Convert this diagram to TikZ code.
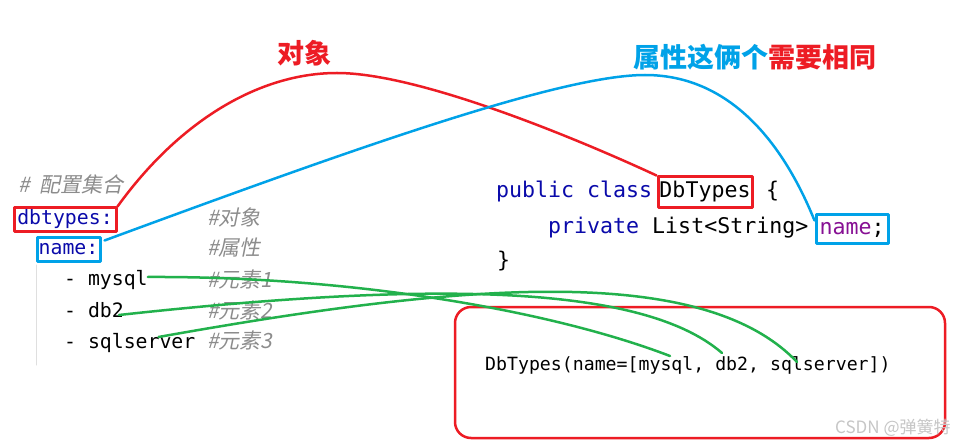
\documentclass[tikz,border=0pt]{standalone}
\usepackage{fontspec}
\setmonofont{DejaVu Sans Mono}
\newfontfamily\cjk{Noto Sans CJK SC}
\newfontfamily\cjkslant{Noto Sans CJK SC}[FakeSlant=0.2]
\usepackage{xcolor}
\definecolor{markred}{HTML}{ED1C24}
\definecolor{markblue}{HTML}{00A2E8}
\definecolor{markgreen}{HTML}{22B14C}
\definecolor{keyblue}{RGB}{10,10,170}
\definecolor{fieldpurple}{RGB}{135,16,148}
\definecolor{commentgray}{RGB}{140,140,140}

\begin{document}
\begin{tikzpicture}[
  x=1pt, y=-1pt,
  line cap=round,
  line join=round,
  every node/.style={inner sep=0pt},
  yml/.style={anchor=west, font=\ttfamily\fontsize{19.8}{22}\selectfont, text height=14pt, text depth=4pt},
  ymlkey/.style={font=\ttfamily\fontsize{19.8}{22}\selectfont, text=keyblue, line width=3pt, text height=14pt, text depth=4pt},
  comment/.style={anchor=west, font=\cjkslant\fontsize{21}{24}\selectfont, text=commentgray, text height=15pt, text depth=4pt},
  java/.style={anchor=west, font=\ttfamily\fontsize{21.6}{24}\selectfont, text height=15pt, text depth=5pt},
  javabox/.style={font=\ttfamily\fontsize{21.6}{24}\selectfont, line width=3pt, text height=15pt, text depth=5pt},
  title/.style={anchor=west, font=\cjk\bfseries\fontsize{27}{30}\selectfont},
  curve/.style={line width=2.5pt}
]
  \fill[white] (0,0) rectangle (966,446);
  \useasboundingbox (0,0) rectangle (966,446);

  % Titles
  \node[title, text=markred] (objtitle) at (277,53) {对象};
  \node[title] (attrtitle) at (633,57) {\textcolor{markblue}{属性这俩个}\textcolor{markred}{需要相同}};

  % YAML configuration
  \node[comment] (cfg) at (18,187) {\#\hspace{10pt}配置集合};
  \node[ymlkey, draw=markred, minimum width=102pt, minimum height=24pt] (dbtypes) at (65,220) {dbtypes:};
  \node[comment] (cmtobj) at (207,220) {\#对象};
  \node[ymlkey, draw=markblue, minimum width=63pt, minimum height=24pt] (ymlname) at (68.5,250) {name:};
  \node[comment] (cmtattr) at (207,250) {\#属性};
  \node[yml] (mysql) at (64,281) {- mysql};
  \node[comment] (cmtone) at (207,282) {\#元素1};
  \node[yml] (db) at (64,312) {- db2};
  \node[comment] (cmttwo) at (207,313) {\#元素2};
  \node[yml] (sqlserver) at (64,343) {- sqlserver};
  \node[comment] (cmtthree) at (207,343) {\#元素3};
  \draw[gray!25, line width=1pt] (36,265) -- (36,365);

  % Java class
  \node[java, text=keyblue] (pubclass) at (496,193) {public class};
  \node[javabox, draw=markred, minimum width=94pt, minimum height=31pt] (dbclass) at (705,192.5) {DbTypes};
  \node[java] (lbrace) at (766,193) {\{};
  \node[java] (field) at (548,229) {\textcolor{keyblue}{private} List<String>};
  \node[javabox, draw=markblue, minimum width=72pt, minimum height=29pt] (javaname) at (852,229.5) {\textcolor{fieldpurple}{name};};
  \node[java] (rbrace) at (497,263) {\}};

  % Printed result
  \node[draw=markred, line width=2.5pt, rounded corners=16pt, minimum width=490pt, minimum height=131pt] (result) at (700,372.5) {};
  \node[anchor=west, font=\ttfamily\fontsize{18.2}{20}\selectfont] (resulttxt) at (485,365) {DbTypes(name=[mysql, db2, sqlserver])};
  \node[anchor=west, font=\cjk\fontsize{17}{17}\selectfont, text=gray!45] (mark) at (835,428) {CSDN @弹簧特};

  % Links
  \draw[markred, curve] (dbtypes.north east) .. controls (180,120) and (260,73) .. (337,73)
    .. controls (420,73) and (580,140) .. (dbclass.north west);
  \draw[markblue, curve] ([xshift=3pt,yshift=-4pt]ymlname.north east) .. controls (350,150) and (560,75) .. (645,75)
    .. controls (740,75) and (790,160) .. ([yshift=-7pt]javaname.north west);

  \coordinate (outmysql) at (670,356);
  \coordinate (outdb) at (722,353);
  \coordinate (outsql) at (797,362);
  \draw[markgreen, curve] ([yshift=4pt]mysql.east) .. controls (350,276) and (550,310) .. (outmysql);
  \draw[markgreen, curve] ([xshift=-5pt,yshift=-3pt]db.east) .. controls (420,282) and (640,282) .. (outdb);
  \draw[markgreen, curve] ([xshift=-37pt,yshift=6pt]sqlserver.east) .. controls (450,285) and (700,260) .. (outsql);
\end{tikzpicture}
\end{document}
